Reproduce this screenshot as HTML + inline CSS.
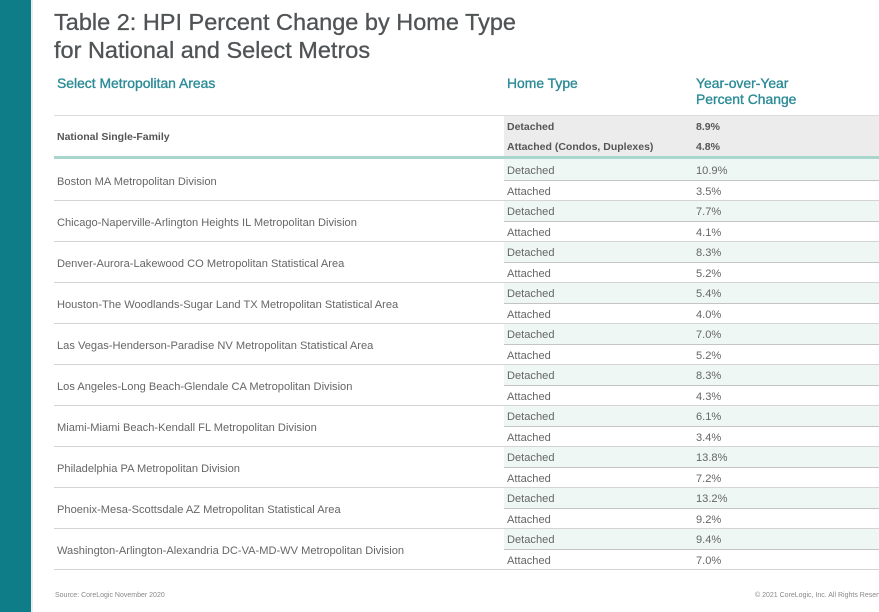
<!DOCTYPE html>
<html><head><meta charset="utf-8">
<style>
html,body{margin:0;padding:0;}
body{width:879px;height:612px;position:relative;overflow:hidden;background:#fff;font-family:"Liberation Sans",Arial,sans-serif;}
.bar{position:absolute;left:0;top:0;width:31px;height:612px;background:#0e7d88;}
.bar2{position:absolute;left:31px;top:0;width:2px;height:612px;background:#e6eeee;}
.t{position:absolute;white-space:nowrap;}
.title{left:54px;font-size:23.5px;color:#505355;line-height:28px;-webkit-text-stroke:0.3px #505355;}
.hd{font-size:13.9px;color:#2b8b96;line-height:16px;-webkit-text-stroke:0.35px #2b8b96;}
.cell{font-size:11.1px;color:#666;line-height:14px;}
.b{font-weight:bold;color:#555;font-size:10.5px;}
.hl{position:absolute;height:1px;}
.bg{position:absolute;left:504px;width:375px;}
.ft{font-size:7px;color:#888;}
</style></head><body>
<div class="bar"></div><div class="bar2"></div>
<div class="t title" style="top:8px">Table 2: HPI Percent Change by Home Type</div>
<div class="t title" style="top:36px">for National and Select Metros</div>
<div class="t hd" style="left:57px;top:75px">Select Metropolitan Areas</div>
<div class="t hd" style="left:507px;top:75px">Home Type</div>
<div class="t hd" style="left:696px;top:75px">Year-over-Year<br>Percent Change</div>
<div class="hl" style="left:54px;width:825px;top:115px;background:#dcdcdc"></div>
<div class="bg" style="top:116px;height:40px;background:#ececec"></div>
<div class="t cell b" style="left:57px;top:130px">National Single-Family</div>
<div class="t cell b" style="left:507px;top:120px">Detached</div>
<div class="t cell b" style="left:696px;top:120px">8.9%</div>
<div class="t cell b" style="left:507px;top:140px">Attached (Condos, Duplexes)</div>
<div class="t cell b" style="left:696px;top:140px">4.8%</div>
<div class="hl" style="left:54px;width:825px;top:156px;height:3px;background:#a8d6cd"></div>
<div class="t ft" style="left:55px;top:592px">Source: CoreLogic November 2020</div>
<div class="t ft" style="left:755px;top:592px">© 2021 CoreLogic, Inc. All Rights Reserved</div>

<div class="bg" style="top:159px;height:21px;background:#eef7f3"></div>
<div class="hl" style="left:504px;width:375px;top:180px;background:#c4c4c4"></div>
<div class="hl" style="left:54px;width:825px;top:200px;background:#d4d4d4"></div>
<div class="t cell" style="left:57px;top:175px">Boston MA Metropolitan Division</div>
<div class="t cell" style="left:507px;top:164px">Detached</div><div class="t cell" style="left:696px;top:164px">10.9%</div>
<div class="t cell" style="left:507px;top:185px">Attached</div><div class="t cell" style="left:696px;top:185px">3.5%</div>

<div class="bg" style="top:201px;height:20px;background:#eef7f3"></div>
<div class="hl" style="left:504px;width:375px;top:221px;background:#c4c4c4"></div>
<div class="hl" style="left:54px;width:825px;top:241px;background:#d4d4d4"></div>
<div class="t cell" style="left:57px;top:216px">Chicago-Naperville-Arlington Heights IL Metropolitan Division</div>
<div class="t cell" style="left:507px;top:205px">Detached</div><div class="t cell" style="left:696px;top:205px">7.7%</div>
<div class="t cell" style="left:507px;top:226px">Attached</div><div class="t cell" style="left:696px;top:226px">4.1%</div>

<div class="bg" style="top:242px;height:20px;background:#eef7f3"></div>
<div class="hl" style="left:504px;width:375px;top:262px;background:#c4c4c4"></div>
<div class="hl" style="left:54px;width:825px;top:282px;background:#d4d4d4"></div>
<div class="t cell" style="left:57px;top:257px">Denver-Aurora-Lakewood CO Metropolitan Statistical Area</div>
<div class="t cell" style="left:507px;top:246px">Detached</div><div class="t cell" style="left:696px;top:246px">8.3%</div>
<div class="t cell" style="left:507px;top:267px">Attached</div><div class="t cell" style="left:696px;top:267px">5.2%</div>

<div class="bg" style="top:283px;height:20px;background:#eef7f3"></div>
<div class="hl" style="left:504px;width:375px;top:303px;background:#c4c4c4"></div>
<div class="hl" style="left:54px;width:825px;top:323px;background:#d4d4d4"></div>
<div class="t cell" style="left:57px;top:298px">Houston-The Woodlands-Sugar Land TX Metropolitan Statistical Area</div>
<div class="t cell" style="left:507px;top:287px">Detached</div><div class="t cell" style="left:696px;top:287px">5.4%</div>
<div class="t cell" style="left:507px;top:308px">Attached</div><div class="t cell" style="left:696px;top:308px">4.0%</div>

<div class="bg" style="top:324px;height:20px;background:#eef7f3"></div>
<div class="hl" style="left:504px;width:375px;top:344px;background:#c4c4c4"></div>
<div class="hl" style="left:54px;width:825px;top:364px;background:#d4d4d4"></div>
<div class="t cell" style="left:57px;top:339px">Las Vegas-Henderson-Paradise NV Metropolitan Statistical Area</div>
<div class="t cell" style="left:507px;top:328px">Detached</div><div class="t cell" style="left:696px;top:328px">7.0%</div>
<div class="t cell" style="left:507px;top:349px">Attached</div><div class="t cell" style="left:696px;top:349px">5.2%</div>

<div class="bg" style="top:365px;height:20px;background:#eef7f3"></div>
<div class="hl" style="left:504px;width:375px;top:385px;background:#c4c4c4"></div>
<div class="hl" style="left:54px;width:825px;top:405px;background:#d4d4d4"></div>
<div class="t cell" style="left:57px;top:380px">Los Angeles-Long Beach-Glendale CA Metropolitan Division</div>
<div class="t cell" style="left:507px;top:369px">Detached</div><div class="t cell" style="left:696px;top:369px">8.3%</div>
<div class="t cell" style="left:507px;top:390px">Attached</div><div class="t cell" style="left:696px;top:390px">4.3%</div>

<div class="bg" style="top:406px;height:20px;background:#eef7f3"></div>
<div class="hl" style="left:504px;width:375px;top:426px;background:#c4c4c4"></div>
<div class="hl" style="left:54px;width:825px;top:446px;background:#d4d4d4"></div>
<div class="t cell" style="left:57px;top:421px">Miami-Miami Beach-Kendall FL Metropolitan Division</div>
<div class="t cell" style="left:507px;top:410px">Detached</div><div class="t cell" style="left:696px;top:410px">6.1%</div>
<div class="t cell" style="left:507px;top:431px">Attached</div><div class="t cell" style="left:696px;top:431px">3.4%</div>

<div class="bg" style="top:447px;height:20px;background:#eef7f3"></div>
<div class="hl" style="left:504px;width:375px;top:467px;background:#c4c4c4"></div>
<div class="hl" style="left:54px;width:825px;top:487px;background:#d4d4d4"></div>
<div class="t cell" style="left:57px;top:462px">Philadelphia PA Metropolitan Division</div>
<div class="t cell" style="left:507px;top:451px">Detached</div><div class="t cell" style="left:696px;top:451px">13.8%</div>
<div class="t cell" style="left:507px;top:472px">Attached</div><div class="t cell" style="left:696px;top:472px">7.2%</div>

<div class="bg" style="top:488px;height:20px;background:#eef7f3"></div>
<div class="hl" style="left:504px;width:375px;top:508px;background:#c4c4c4"></div>
<div class="hl" style="left:54px;width:825px;top:528px;background:#d4d4d4"></div>
<div class="t cell" style="left:57px;top:503px">Phoenix-Mesa-Scottsdale AZ Metropolitan Statistical Area</div>
<div class="t cell" style="left:507px;top:492px">Detached</div><div class="t cell" style="left:696px;top:492px">13.2%</div>
<div class="t cell" style="left:507px;top:513px">Attached</div><div class="t cell" style="left:696px;top:513px">9.2%</div>

<div class="bg" style="top:529px;height:20px;background:#eef7f3"></div>
<div class="hl" style="left:504px;width:375px;top:549px;background:#c4c4c4"></div>
<div class="hl" style="left:54px;width:825px;top:569px;background:#d4d4d4"></div>
<div class="t cell" style="left:57px;top:544px">Washington-Arlington-Alexandria DC-VA-MD-WV Metropolitan Division</div>
<div class="t cell" style="left:507px;top:533px">Detached</div><div class="t cell" style="left:696px;top:533px">9.4%</div>
<div class="t cell" style="left:507px;top:554px">Attached</div><div class="t cell" style="left:696px;top:554px">7.0%</div>
</body></html>
